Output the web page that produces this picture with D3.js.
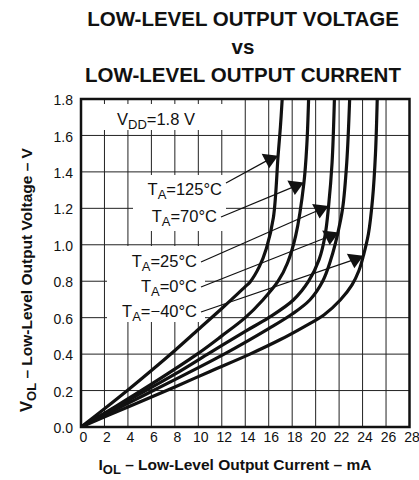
<!DOCTYPE html>
<html>
<head>
<meta charset="utf-8">
<script src="https://cdn.jsdelivr.net/npm/d3@7"></script>
<style>
  body { margin: 0; background: #fff; }
  text { font-family: "Liberation Sans", Arial, sans-serif; fill: #111; }
</style>
</head>
<body>
<div id="chart"></div>
<script>
// tick values
const xTicks = [0, 2, 4, 6, 8, 10, 12, 14, 16, 18, 20, 22, 24, 26, 28];
const yTicks = [0, 0.2, 0.4, 0.6, 0.8, 1.0, 1.2, 1.4, 1.6, 1.8];

// IOL (mA) / VOL (V), one pair per temperature
const i125 = [0, 2, 4, 6, 8, 10, 12, 13, 14, 14.4, 15.2, 15.8, 16.4, 16.8, 17.0, 17.15];
const v125 = [0, 0.1, 0.203, 0.31, 0.42, 0.535, 0.65, 0.71, 0.77, 0.795, 0.88, 0.98, 1.15, 1.49, 1.65, 1.8];
const i70 = [0, 3, 6, 9.9, 12, 14, 15.5, 16.8, 17.6, 18.3, 19.0, 19.25, 19.4];
const v70 = [0, 0.115, 0.235, 0.4, 0.5, 0.6, 0.697, 0.8, 0.9, 1.05, 1.34, 1.55, 1.8];
const i25 = [0, 4, 8, 10.8, 14, 16, 18.1, 19.4, 20.3, 20.8, 21.1, 21.4, 21.6];
const v25 = [0, 0.145, 0.29, 0.4, 0.525, 0.6, 0.697, 0.8, 0.92, 1.05, 1.21, 1.45, 1.8];
const i0 = [0, 4, 8, 12.2, 16, 18, 19.5, 20.6, 21.3, 21.9, 22.3, 22.65, 22.9];
const v0 = [0, 0.13, 0.26, 0.4, 0.54, 0.62, 0.697, 0.8, 0.92, 1.067, 1.2, 1.45, 1.8];
const im40 = [0, 4, 8, 11, 14.4, 17, 19, 20.7, 22.1, 23.1, 23.7, 24.07, 24.5, 24.85, 25.1, 25.25];
const vm40 = [0, 0.11, 0.22, 0.305, 0.4, 0.48, 0.55, 0.615, 0.697, 0.78, 0.86, 0.94, 1.06, 1.25, 1.5, 1.8];

const temps = ["125", "70", "25", "0", "\u221240"];
// where each label's arrowhead sits (mA, V)
const arrowI = [16.08, 18.27, 20.38, 21.24, 23.34];
const arrowV = [1.47, 1.322, 1.194, 1.048, 0.92];

const series = [[i125, v125], [i70, v70], [i25, v25], [i0, v0], [im40, vm40]];

const W = 419, H = 480;
const svg = d3.select("#chart").append("svg")
  .attr("width", W).attr("height", H);

const x = d3.scaleLinear().domain([0, 28]).range([81, 409.5]);
const y = d3.scaleLinear().domain([0, 1.8]).range([427, 99]);

// title
const title = ["LOW-LEVEL OUTPUT VOLTAGE", "vs", "LOW-LEVEL OUTPUT CURRENT"];
svg.selectAll("text.title").data(title).enter().append("text")
  .attr("class", "title")
  .attr("x", 243).attr("y", (d, i) => 25.5 + i * 28)
  .attr("text-anchor", "middle")
  .style("font-size", "20.5px").style("font-weight", "bold")
  .text(d => d);

// grid
const grid = svg.append("g").attr("stroke", "#222").attr("stroke-width", 1);
grid.selectAll("line.v").data(xTicks.slice(1, -1)).enter().append("line")
  .attr("x1", d => x(d)).attr("x2", d => x(d))
  .attr("y1", y(1.8)).attr("y2", y(0));
grid.selectAll("line.h").data(yTicks.slice(1, -1)).enter().append("line")
  .attr("y1", d => y(d)).attr("y2", d => y(d))
  .attr("x1", x(0)).attr("x2", x(28));

// white patches under the labels
const patches = [[95, 104, 135, 26], [133, 175, 93, 56], [107, 246, 98, 76]];
svg.selectAll("rect.patch").data(patches).enter().append("rect")
  .attr("x", d => d[0]).attr("y", d => d[1])
  .attr("width", d => d[2]).attr("height", d => d[3])
  .attr("fill", "#fff");

// frame
svg.append("rect")
  .attr("x", x(0)).attr("y", y(1.8))
  .attr("width", x(28) - x(0)).attr("height", y(0) - y(1.8))
  .attr("fill", "none").attr("stroke", "#111").attr("stroke-width", 2.5);

// axes tick labels
const xAxis = d3.axisBottom(x).tickValues(xTicks).tickSize(0).tickFormat(d3.format("d"));
const gx = svg.append("g").attr("transform", "translate(0," + y(0) + ")").call(xAxis);
gx.select(".domain").remove();
gx.selectAll("text").attr("dy", null).attr("y", 15).attr("dx", 2)
  .style("font-size", "14px").style("font-family", "Liberation Sans, Arial, sans-serif").attr("fill", "#111");

const yAxis = d3.axisLeft(y).tickValues(yTicks).tickSize(0).tickFormat(d3.format(".1f"));
const gy = svg.append("g").attr("transform", "translate(" + x(0) + ",0)").call(yAxis);
gy.select(".domain").remove();
gy.selectAll("text").attr("x", -8).attr("dy", "0.4em")
  .style("font-size", "14px").style("font-family", "Liberation Sans, Arial, sans-serif").attr("fill", "#111");

// curves
svg.append("clipPath").attr("id", "plot").append("rect")
  .attr("x", x(0)).attr("y", y(1.8))
  .attr("width", x(28) - x(0)).attr("height", y(0) - y(1.8));

const line = d3.line()
  .x(d => x(d[0])).y(d => y(d[1]))
  .curve(d3.curveCatmullRom.alpha(0.5));

svg.append("g").attr("clip-path", "url(#plot)")
  .selectAll("path").data(series).enter().append("path")
  .attr("d", s => line(s[0].map((v, k) => [v, s[1][k]])))
  .attr("fill", "none").attr("stroke", "#111").attr("stroke-width", 3.2);

// VDD label
const vdd = svg.append("text").attr("x", 117).attr("y", 125).style("font-size", "16.5px");
vdd.append("tspan").text("V");
vdd.append("tspan").attr("dy", 4).style("font-size", "13px").text("DD");
vdd.append("tspan").attr("dy", -4).text("=1.8 V");

// temperature labels, leaders and arrowheads
const labelPos = [[222, 195, -12], [217, 222, -5], [197, 267, -5], [197, 292, -5], [197, 317, -5]];
temps.forEach((t, i) => {
  const p = labelPos[i];
  const lbl = svg.append("text").attr("x", p[0]).attr("y", p[1])
    .attr("text-anchor", "end").style("font-size", "16.5px");
  lbl.append("tspan").text("T");
  lbl.append("tspan").attr("dy", 4).style("font-size", "13px").text("A");
  lbl.append("tspan").attr("dy", -4).text("=" + t + "\u00b0C");

  const ax = x(arrowI[i]), ay = y(arrowV[i]);
  svg.append("line")
    .attr("x1", p[0] + 4).attr("y1", p[1] + p[2])
    .attr("x2", ax).attr("y2", ay)
    .attr("stroke", "#111").attr("stroke-width", 1.2);
  svg.append("path")
    .attr("transform", "translate(" + ax + "," + ay + ")")
    .attr("d", "M-8,-5.5L8.5,-3.5L-0.5,9Z")
    .attr("fill", "#111");
});

// axis titles
const xt = svg.append("text").attr("x", 235).attr("y", 470)
  .attr("text-anchor", "middle").style("font-size", "15.5px").style("font-weight", "bold");
xt.append("tspan").text("I");
xt.append("tspan").attr("dy", 4).style("font-size", "13px").text("OL");
xt.append("tspan").attr("dy", -4).text(" \u2013 Low-Level Output Current \u2013 mA");

const yt = svg.append("text")
  .attr("transform", "translate(32,280) rotate(-90)")
  .attr("text-anchor", "middle").style("font-size", "15.5px").style("font-weight", "bold");
yt.append("tspan").style("font-size", "16.5px").text("V");
yt.append("tspan").attr("dy", 4).style("font-size", "13px").text("OL");
yt.append("tspan").attr("dy", -4).text("  \u2013 Low-Level Output Voltage \u2013 V");
</script>
</body>
</html>
